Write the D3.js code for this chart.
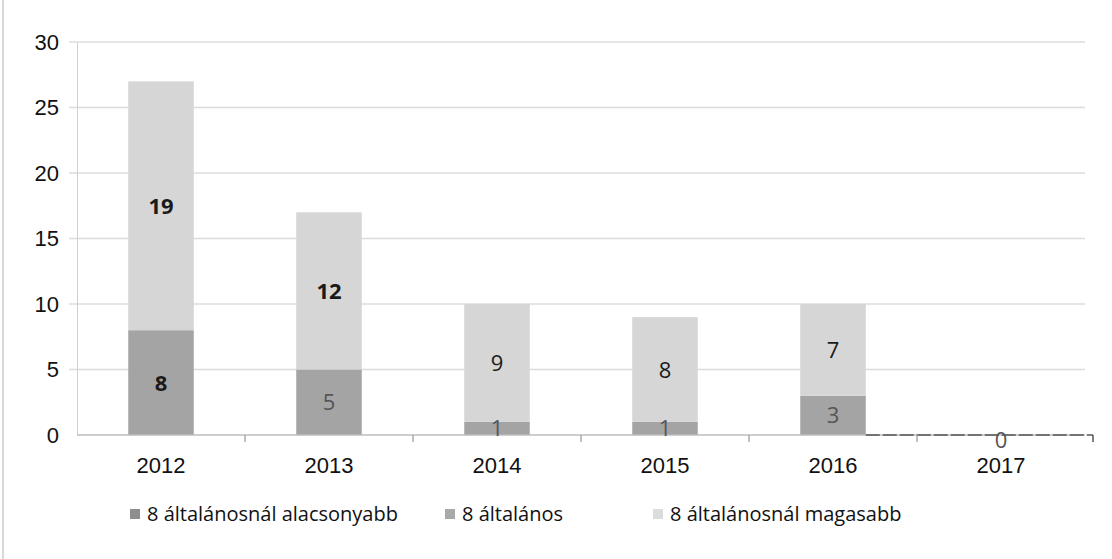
<!DOCTYPE html>
<html>
<head>
<meta charset="utf-8">
<script src="https://cdn.jsdelivr.net/npm/d3@7"></script>
<style>
  body { margin: 0; background: #fff; }
  svg { font-family: "Open Sans", Lato, sans-serif; }
</style>
</head>
<body>
<div class="container"></div>
<script>
const years = ['2012', '2013', '2014', '2015', '2016', '2017'];
const seriesNames = ['8 általánosnál alacsonyabb', '8 általános', '8 általánosnál magasabb'];
const lower = [8, 5, 1, 1, 3, 0];
const basic = [0, 0, 0, 0, 0, 0];
const higher = [19, 12, 9, 8, 7, 0];
const yTicks = [0, 5, 10, 15, 20, 25, 30];

const colors = ['#a4a4a4', '#b4b4b4', '#d6d6d6'];
const legendColors = ['#8e8e8e', '#a9a9a9', '#dcdcdc'];

const margin = {top: 42, right: 27, bottom: 124, left: 77},
    width = 1112 - margin.left - margin.right,
    height = 559 - margin.top - margin.bottom;

const rows = years.map((y, i) => ({year: y, s0: lower[i], s1: basic[i], s2: higher[i]}));
const stack = d3.stack().keys(['s0', 's1', 's2'])(rows);

const svg = d3.select('.container')
    .append('svg')
    .attr('width', 1112)
    .attr('height', 559);

// scan frame edge
svg.append('line')
    .attr('x1', 3).attr('x2', 3).attr('y1', 0).attr('y2', 559)
    .attr('stroke', '#d8d8d8').attr('stroke-width', 2);

const g = svg.append('g')
    .attr('transform', 'translate(' + margin.left + ',' + margin.top + ')');

let x = d3.scaleBand().domain(years).range([0, width]).paddingInner(0.61).paddingOuter(0.305);
let y = d3.scaleLinear().domain([0, 30]).range([height, 0]);

// gridlines
g.append('g')
    .selectAll('line')
    .data(yTicks.slice(1))
    .enter().append('line')
    .attr('x1', -8).attr('x2', width)
    .attr('y1', d => y(d)).attr('y2', d => y(d))
    .attr('stroke', '#dcdcdc').attr('stroke-width', 1.5);

// y axis
let yAxis = d3.axisLeft(y).tickValues(yTicks).tickSize(0).tickPadding(18);
g.append('g')
    .attr('id', 'y-axis')
    .call(yAxis)
    .call(a => a.select('.domain').attr('stroke', '#cfcfcf'))
    .selectAll('text')
    .style('font-size', '22px')
    .attr('fill', '#111');

// bars
g.selectAll('.layer')
    .data(stack)
    .enter().append('g')
    .attr('class', 'layer')
    .attr('fill', (d, i) => colors[i])
    .selectAll('rect')
    .data(d => d)
    .enter().append('rect')
    .attr('x', d => x(d.data.year))
    .attr('y', d => y(d[1]))
    .attr('width', x.bandwidth())
    .attr('height', d => y(d[0]) - y(d[1]));

// x axis
let xAxis = d3.axisBottom(x).tickSize(0).tickPadding(22);
const xg = g.append('g')
    .attr('id', 'x-axis')
    .attr('transform', 'translate(0,' + height + ')')
    .call(xAxis);
xg.select('.domain').remove();
xg.append('line')
    .attr('x1', 0).attr('x2', width)
    .attr('stroke', '#bdbdbd').attr('stroke-width', 1.5);
xg.append('line')
    .attr('x1', x('2016') + x.bandwidth()).attr('x2', width + 8)
    .attr('stroke', '#555').attr('stroke-width', 1.5)
    .attr('stroke-dasharray', '14,3');
xg.selectAll('.sep')
    .data(years.slice(1).concat(['end']))
    .enter().append('line')
    .attr('class', 'sep')
    .attr('x1', d => d === 'end' ? width + 8 : x(d) - x.step() * x.paddingInner() / 2)
    .attr('x2', d => d === 'end' ? width + 8 : x(d) - x.step() * x.paddingInner() / 2)
    .attr('y1', 0).attr('y2', 7)
    .attr('stroke', d => d === 'end' ? '#555' : '#aaa').attr('stroke-width', 1.5);
xg.selectAll('.tick text')
    .style('font-size', '22px')
    .attr('fill', '#111');

// data labels
stack.forEach((layer, li) => {
    g.append('g')
        .selectAll('text')
        .data(layer.filter(d => (d[1] - d[0]) > 0 || (li === 0 && d.data.s0 + d.data.s1 + d.data.s2 === 0)))
        .enter().append('text')
        .attr('x', d => x(d.data.year) + x.bandwidth() / 2)
        .attr('y', d => (d[1] - d[0]) > 0 ? y((d[0] + d[1]) / 2) + 8 : y(0) + 13)
        .attr('text-anchor', 'middle')
        .style('font-size', '22px')
        .style('font-weight', d => (d.data.year === '2012' || d.data.year === '2013') && !(li === 0 && d.data.year === '2013') ? 'bold' : 'normal')
        .attr('fill', d => (li === 0 && d.data.year !== '2012') ? '#555' : '#1a1a1a')
        .text(d => d[1] - d[0]);
});

// legend
const legendX = [130, 445, 653];
const legend = svg.append('g').attr('transform', 'translate(0,' + 514 + ')');
seriesNames.forEach((name, i) => {
    legend.append('rect')
        .attr('x', legendX[i]).attr('y', -5)
        .attr('width', 10).attr('height', 10)
        .attr('fill', legendColors[i]);
    legend.append('text')
        .attr('x', legendX[i] + 17).attr('y', 7)
        .style('font-size', '20px')
        .attr('fill', '#111')
        .text(name);
});
</script>
</body>
</html>
